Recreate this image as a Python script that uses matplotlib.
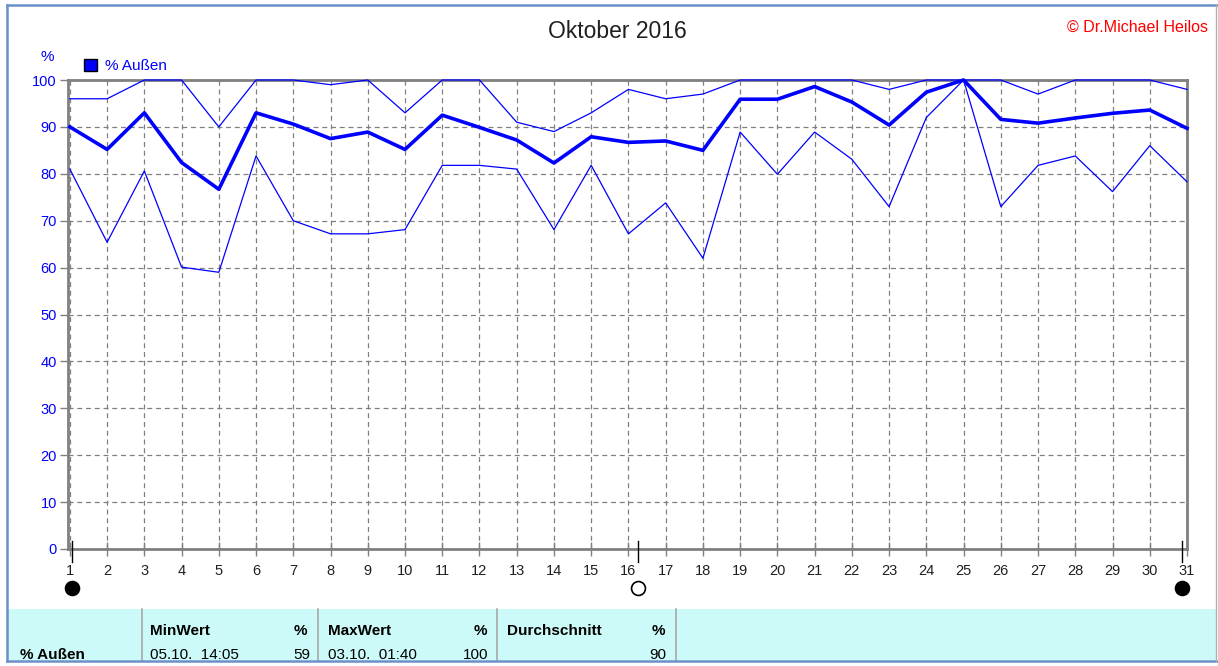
import matplotlib
matplotlib.use("Agg")
import matplotlib.pyplot as plt
from matplotlib.patches import Rectangle
from matplotlib.lines import Line2D

plt.rcParams['font.family'] = ['Liberation Sans', 'DejaVu Sans']

W, H = 1218, 666

days = list(range(1, 32))
hum_max = [96, 96, 100, 100, 90, 100, 100, 99, 100, 93, 100, 100, 91, 89, 93, 98,
           96, 97, 100, 100, 100, 100, 98, 100, 100, 100, 97, 100, 100, 100, 98]
hum_mean = [90, 85.2, 93, 82.4, 76.7, 93, 90.6, 87.5, 88.9, 85.2, 92.5, 89.9, 87.2, 82.3, 87.9, 86.7,
            87, 85, 95.9, 95.9, 98.6, 95.3, 90.4, 97.4, 100, 91.6, 90.8, 91.9, 92.9, 93.6, 89.7]
hum_min = [81, 65.4, 80.6, 60.1, 59, 83.8, 70, 67.2, 67.2, 68.1, 81.8, 81.8, 81, 68.1, 81.8, 67.2,
           73.8, 62, 88.9, 79.9, 88.9, 83.1, 73, 92, 100, 73, 81.8, 83.8, 76.2, 86, 78.3]

# moon phases: new, full, new
moon_x = [1.05, 16.27, 30.87]
moon_full = [False, True, False]

def fx(x):
    return x / W

def fy(y):
    return 1 - y / H

fig = plt.figure(figsize=(W / 100, H / 100), dpi=100)
ax = fig.add_axes([fx(68), fy(549), (1187 - 68) / W, (549 - 80) / H])

grey = '#808080'
blue = '#0000ff'

ax.set_xlim(0.95, 31)
ax.set_ylim(0, 100)
ax.set_xticks(days)
ax.set_xticklabels([str(d) for d in days], fontsize=10.5, color='#202020')
ax.set_yticks(range(0, 101, 10))
ax.set_yticklabels([str(v) for v in range(0, 101, 10)], fontsize=10.5, color=blue)
ax.tick_params(axis='x', direction='inout', length=10, width=1, color=grey, pad=6)
ax.tick_params(axis='y', direction='out', length=6, width=1, color=grey, pad=2)

for s in ['top', 'left', 'right', 'bottom']:
    ax.spines[s].set_color(grey)
    ax.spines[s].set_linewidth(2)

ax.grid(True, color=grey, linestyle=(0, (4, 3)), linewidth=0.9)

ax.plot(days, hum_max, color=blue, lw=0.9, clip_on=False, zorder=3)
ax.plot(days, hum_min, color=blue, lw=0.9, clip_on=False, zorder=3)
ax.plot(days, hum_mean, color=blue, lw=2.6, clip_on=False, zorder=4)

for mx, full in zip(moon_x, moon_full):
    ax.plot([mx, mx], [1.7, -2.8], color='black', lw=1, clip_on=False, zorder=5)
    ax.plot([mx], [-8.3], marker='o', markersize=10,
            markerfacecolor='white' if full else 'black',
            markeredgecolor='black', markeredgewidth=1.2, clip_on=False)

# title and header texts
fig.text(fx(617), fy(32), 'Oktober 2016', fontsize=16.5, ha='center', va='center', color='#202020')
fig.text(fx(1208), fy(27), '\u00a9 Dr.Michael Heilos', fontsize=11.5, ha='right', va='center', color='#ff0000')
fig.text(fx(47), fy(57), '%', fontsize=11, ha='center', va='center', color=blue)
fig.add_artist(Rectangle((fx(84), fy(71)), 13 / W, 12 / H, facecolor=blue,
                         edgecolor='black', lw=1, transform=fig.transFigure))
fig.text(fx(105), fy(66), '% Außen', fontsize=11, ha='left', va='center', color=blue)

# statistics panel
fig.add_artist(Rectangle((fx(7), fy(660)), (1216 - 7) / W, 51 / H, facecolor='#ccfaf8',
                         edgecolor='none', transform=fig.transFigure, zorder=0))
for sx in [142, 318, 497, 676]:
    fig.add_artist(Line2D([fx(sx), fx(sx)], [fy(609), fy(660)], color='#a8a8a8', lw=1.2,
                          transform=fig.transFigure))

fs = 11
fig.text(fx(20), fy(655), '% Außen', fontsize=fs, weight='bold', va='center')
fig.text(fx(150), fy(631), 'MinWert', fontsize=fs, weight='bold', va='center')
fig.text(fx(307), fy(631), '%', fontsize=fs, weight='bold', va='center', ha='right')
fig.text(fx(150), fy(655), '05.10.  14:05', fontsize=fs, va='center')
fig.text(fx(310), fy(655), '59', fontsize=fs, va='center', ha='right')
fig.text(fx(328), fy(631), 'MaxWert', fontsize=fs, weight='bold', va='center')
fig.text(fx(487), fy(631), '%', fontsize=fs, weight='bold', va='center', ha='right')
fig.text(fx(328), fy(655), '03.10.  01:40', fontsize=fs, va='center')
fig.text(fx(488), fy(655), '100', fontsize=fs, va='center', ha='right')
fig.text(fx(507), fy(631), 'Durchschnitt', fontsize=fs, weight='bold', va='center')
fig.text(fx(665), fy(631), '%', fontsize=fs, weight='bold', va='center', ha='right')
fig.text(fx(666), fy(655), '90', fontsize=fs, va='center', ha='right')

# outer frame
frame = '#6b8fc7'
fig.add_artist(Line2D([fx(7), fx(1217)], [fy(5), fy(5)], color=frame, lw=1.8, transform=fig.transFigure))
fig.add_artist(Line2D([fx(7), fx(1217)], [fy(661), fy(661)], color=frame, lw=1.8, transform=fig.transFigure))
fig.add_artist(Line2D([fx(7), fx(7)], [fy(5), fy(661)], color=frame, lw=1.8, transform=fig.transFigure))
fig.add_artist(Line2D([fx(1216), fx(1216)], [fy(5), fy(661)], color='#b0b0b0', lw=1, transform=fig.transFigure))

fig.savefig('out.png', dpi=100)
